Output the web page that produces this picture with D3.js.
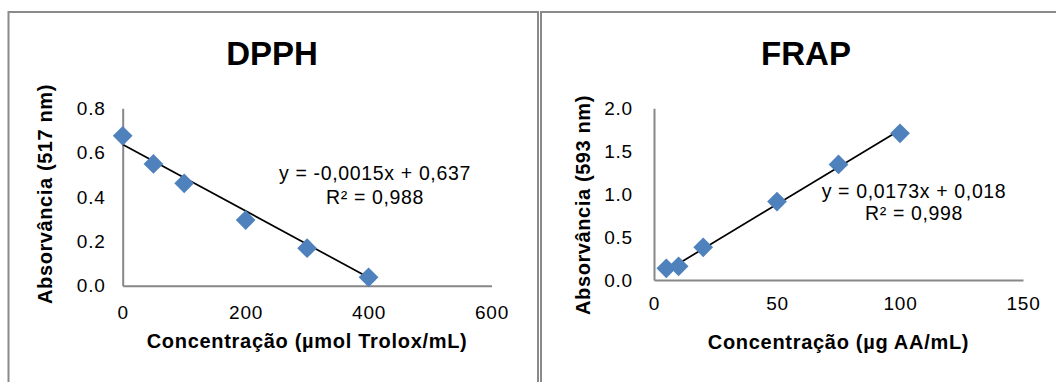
<!DOCTYPE html>
<html>
<head>
<meta charset="utf-8">
<script src="https://cdn.jsdelivr.net/npm/d3@7"></script>
<style>
  html, body { margin: 0; padding: 0; background: #fff; }
  svg { display: block; }
  text { font-family: "Liberation Sans", Arial, sans-serif; fill: #000; }
</style>
</head>
<body>
<svg id="chart" width="1056" height="382"></svg>
<script>
// DPPH calibration (Trolox standard)
const dpphConc = [0, 50, 100, 200, 300, 400];
const dpphAbs = [0.676, 0.549, 0.462, 0.296, 0.169, 0.038];
const dpphFit = [-0.0015, 0.637];   // slope, intercept
const dpphR2 = 0.988;
const dpphXTicks = [0, 200, 400, 600];
const dpphYTicks = [0, 0.2, 0.4, 0.6, 0.8];

// FRAP calibration (ascorbic acid standard)
const frapConc = [5, 10, 20, 50, 75, 100];
const frapAbs = [0.136, 0.160, 0.381, 0.913, 1.346, 1.709];
const frapFit = [0.0173, 0.018];
const frapR2 = 0.998;
const frapXTicks = [0, 50, 100, 150];
const frapYTicks = [0, 0.5, 1.0, 1.5, 2.0];

const svg = d3.select("#chart");
const comma = v => String(v).replace(".", ",");

// Panel frames
const frame = svg.append("g").attr("fill", "none").attr("stroke", "#8a8a8a").attr("stroke-width", 2);
frame.append("path").attr("d", "M8.5,400 V12 H538 V400");
frame.append("path").attr("d", "M541,400 V12 H1070");

function panel(o) {
  const g = svg.append("g");
  const x = d3.scaleLinear().domain(o.xDomain).range([o.left, o.right]);
  const y = d3.scaleLinear().domain(o.yDomain).range([o.bottom, o.top]);

  // title
  g.append("text")
    .attr("x", o.titleX).attr("y", 65)
    .attr("text-anchor", "middle")
    .attr("font-size", 33).attr("font-weight", "bold")
    .text(o.title);

  // axes
  const xa = g.append("g").attr("transform", `translate(0,${o.bottom})`)
    .call(d3.axisBottom(x).tickValues(o.xTicks).tickSize(0).tickSizeOuter(0)
      .tickPadding(o.xPad).tickFormat(d3.format("d")));
  const ya = g.append("g").attr("transform", `translate(${o.left},0)`)
    .call(d3.axisLeft(y).tickValues(o.yTicks).tickSize(0).tickSizeOuter(0)
      .tickPadding(o.yPad).tickFormat(d3.format(".1f")));
  [xa, ya].forEach(a => {
    a.attr("font-family", null);
    a.select(".domain").attr("stroke", "#878787").attr("stroke-width", 2);
    a.selectAll("text").attr("font-size", 19)
      .style("letter-spacing", "0.8px").attr("fill", "#000");
  });

  // axis titles
  g.append("text")
    .attr("x", (o.left + o.right) / 2).attr("y", o.xTitleY)
    .attr("text-anchor", "middle")
    .attr("font-size", 20).attr("font-weight", "bold")
    .style("letter-spacing", "0.7px")
    .text(o.xTitle);
  g.append("text")
    .attr("transform", `translate(${o.yTitleX},${o.yTitleMid}) rotate(-90)`)
    .attr("text-anchor", "middle")
    .attr("font-size", 20).attr("font-weight", "bold")
    .style("letter-spacing", "0.6px")
    .text(o.yTitle);

  // trendline over the data range
  const [m, b] = o.fit;
  const xs = d3.extent(o.xs);
  g.append("line")
    .attr("x1", x(xs[0])).attr("y1", y(m * xs[0] + b))
    .attr("x2", x(xs[1])).attr("y2", y(m * xs[1] + b))
    .attr("stroke", "#000").attr("stroke-width", 1.7);

  // diamond markers
  const sym = d3.symbol().type(d3.symbolSquare).size(195);
  g.selectAll("path.pt").data(o.xs.map((v, i) => [v, o.ys[i]]))
    .join("path").attr("class", "pt")
    .attr("d", sym)
    .attr("transform", d => `translate(${x(d[0])},${y(d[1])}) rotate(45)`)
    .attr("fill", "#4f81bd");

  // equation label
  const eq = g.append("text").attr("text-anchor", "middle")
    .attr("font-size", 19.5).style("letter-spacing", "0.65px");
  eq.append("tspan").attr("x", o.eqX).attr("y", o.eqY)
    .text(`y = ${comma(m)}x + ${comma(b)}`);
  eq.append("tspan").attr("x", o.eqX).attr("y", o.eqY + o.eqGap)
    .text(`R² = ${comma(o.r2)}`);
}

panel({
  title: "DPPH", titleX: 272,
  xs: dpphConc, ys: dpphAbs, fit: dpphFit, r2: dpphR2,
  xDomain: [0, 600], yDomain: [0, 0.8],
  xTicks: dpphXTicks, yTicks: dpphYTicks,
  left: 122.7, right: 491.5, top: 108.3, bottom: 285.7,
  xPad: 20, yPad: 17,
  xTitle: "Concentração (µmol Trolox/mL)", xTitleY: 348,
  yTitle: "Absorvância (517 nm)", yTitleX: 52, yTitleMid: 194,
  eqX: 375, eqY: 179.5, eqGap: 24.5
});

panel({
  title: "FRAP", titleX: 806,
  xs: frapConc, ys: frapAbs, fit: frapFit, r2: frapR2,
  xDomain: [0, 150], yDomain: [0, 2],
  xTicks: frapXTicks, yTicks: frapYTicks,
  left: 654, right: 1023, top: 108.3, bottom: 280,
  xPad: 17, yPad: 21,
  xTitle: "Concentração (µg AA/mL)", xTitleY: 349,
  yTitle: "Absorvância (593 nm)", yTitleX: 590, yTitleMid: 205,
  eqX: 914, eqY: 197.5, eqGap: 22
});
</script>
</body>
</html>
